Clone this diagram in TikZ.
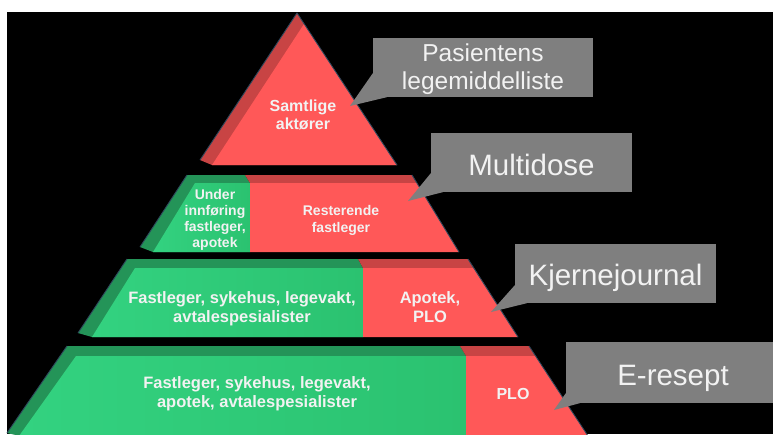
\documentclass[tikz,border=0pt]{standalone}
\usepackage{fontspec}
\setmainfont{Liberation Sans}
\usetikzlibrary{calc}
\definecolor{redF}{RGB}{255,88,88}
\definecolor{redD}{RGB}{200,68,68}
\definecolor{greenF}{RGB}{46,204,120}
\definecolor{greenL}{RGB}{51,210,128}
\definecolor{greenR}{RGB}{43,194,112}
\definecolor{greenD}{RGB}{36,148,88}
\definecolor{cgray}{RGB}{127,127,127}
\definecolor{txt}{RGB}{242,242,242}
\definecolor{edgec}{RGB}{45,70,90}
\tikzset{
  lbl/.style={text=txt, inner sep=0pt, align=center},
  callbox/.style={fill=cgray, draw=none, inner sep=0pt, rectangle},
  calltxt/.style={text=txt, inner sep=0pt, align=center},
  edgeline/.style={draw=edgec, line width=0.9pt, line join=round},
  gshade/.style={left color=greenL, right color=greenR},
}
\begin{document}
\begin{tikzpicture}[x=1pt,y=-1pt]
\useasboundingbox (0,0) rectangle (773,434);
\fill[white] (0,0) rectangle (773,434);
\fill[black] (7,12) rectangle (773,434);
\clip (0,0) rectangle (773,434);

% ---- tier 1 (triangle)
\fill[redD] (297,13) -- (397,165) -- (212,165) -- (200,160) -- cycle;
\fill[redF] (304,24) -- (397,165) -- (212,165) -- cycle;
\draw[edgeline] (200,160) -- (297,13) -- (397,165);

% ---- tier 2
\fill[greenD] (187,175) -- (245,175) -- (250,183) -- (250,252) -- (153,252) -- (140,247) -- cycle;
\fill[redD] (245,175) -- (412,175) -- (417,183) -- (250,183) -- cycle;
\shade[gshade] (195,183) -- (250,183) -- (250,252) -- (153,252) -- cycle;
\fill[redF] (250,183) -- (417,183) -- (459,252) -- (250,252) -- cycle;
\draw[edgeline] (140,247) -- (187,175);
\draw[edgeline] (412,175) -- (459,252);

% ---- tier 3
\fill[greenD] (127,259) -- (358,259) -- (363,268) -- (363,337) -- (92,337) -- (78,333) -- cycle;
\fill[redD] (358,259) -- (468,259) -- (474,268) -- (363,268) -- cycle;
\shade[gshade] (135,268) -- (363,268) -- (363,337) -- (92,337) -- cycle;
\fill[redF] (363,268) -- (474,268) -- (518,337) -- (363,337) -- cycle;
\draw[edgeline] (78,333) -- (127,259);
\draw[edgeline] (468,259) -- (518,337);

% ---- tier 4
\fill[greenD] (67,346) -- (460,346) -- (466,356) -- (466,436) -- (20,436) -- (7,433) -- cycle;
\fill[redD] (460,346) -- (529,346) -- (535.6,356) -- (466,356) -- cycle;
\shade[gshade] (76,356) -- (466,356) -- (466,436) -- (19,436) -- cycle;
\fill[redF] (466,356) -- (535.6,356) -- (588,436) -- (466,436) -- cycle;
\draw[edgeline] (7,433) -- (67,346);
\draw[edgeline] (529,346) -- (588,436);

% ---- tier labels
\node[lbl, font={\fontsize{16}{18}\selectfont\bfseries}] (t1) at (303,114.5) {Samtlige\\aktører};
\node[lbl, font={\fontsize{14}{16}\selectfont\bfseries}] (t2a) at (215,220) {Under\\innføring\\fastleger,\\apotek};
\node[lbl, font={\fontsize{14}{17}\selectfont\bfseries}] (t2b) at (341,220) {Resterende\\fastleger};
\node[lbl, font={\fontsize{16.5}{19}\selectfont\bfseries}] (t3a) at (242,309) {Fastleger, sykehus, legevakt,\\avtalespesialister};
\node[lbl, font={\fontsize{16.5}{19}\selectfont\bfseries}] (t3b) at (430,307.5) {Apotek,\\PLO};
\node[lbl, font={\fontsize{16.5}{19}\selectfont\bfseries}] (t4a) at (257,394) {Fastleger, sykehus, legevakt,\\apotek, avtalespesialister};
\node[lbl, font={\fontsize{16}{19}\selectfont\bfseries}] (t4b) at (513,394) {PLO};

% ---- callouts
\node[callbox, minimum width=220pt, minimum height=59pt] (c1) at (483,67.5) {};
\node[callbox, minimum width=201pt, minimum height=59pt] (c2) at (531.5,162.5) {};
\node[callbox, minimum width=201pt, minimum height=59pt] (c3) at (615.5,273.5) {};
\node[callbox, minimum width=214pt, minimum height=61pt] (c4) at (673,372.5) {};

\coordinate (p1) at (350,106);
\coordinate (p2) at (408,201);
\coordinate (p3) at (491,312);
\coordinate (p4) at (554,410);

\fill[cgray] ($(c1.south west)+(0,-24)$) -- (p1) -- ($(c1.south west)+(14,0)$) -- (c1.south west) -- cycle;
\fill[cgray] ($(c2.south west)+(0,-19)$) -- (p2) -- ($(c2.south west)+(12,0)$) -- (c2.south west) -- cycle;
\fill[cgray] ($(c3.south west)+(0,-18)$) -- (p3) -- ($(c3.south west)+(12,0)$) -- (c3.south west) -- cycle;
\fill[cgray] ($(c4.south west)+(0,-10)$) -- (p4) -- ($(c4.south west)+(14,0)$) -- (c4.south west) -- cycle;

\node[calltxt, font={\fontsize{24.5}{28}\selectfont}] (c1t) at ($(c1.center)+(0,2)$) {Pasientens\\legemiddelliste};
\node[calltxt, font={\fontsize{29.5}{34}\selectfont}, anchor=base] (c2t) at (531.5,175) {Multidose};
\node[calltxt, font={\fontsize{29.5}{34}\selectfont}, anchor=base] (c3t) at (615.5,285) {Kjernejournal};
\node[calltxt, font={\fontsize{29.5}{34}\selectfont}, anchor=base] (c4t) at (673,385) {E-resept};
\end{tikzpicture}
\end{document}
